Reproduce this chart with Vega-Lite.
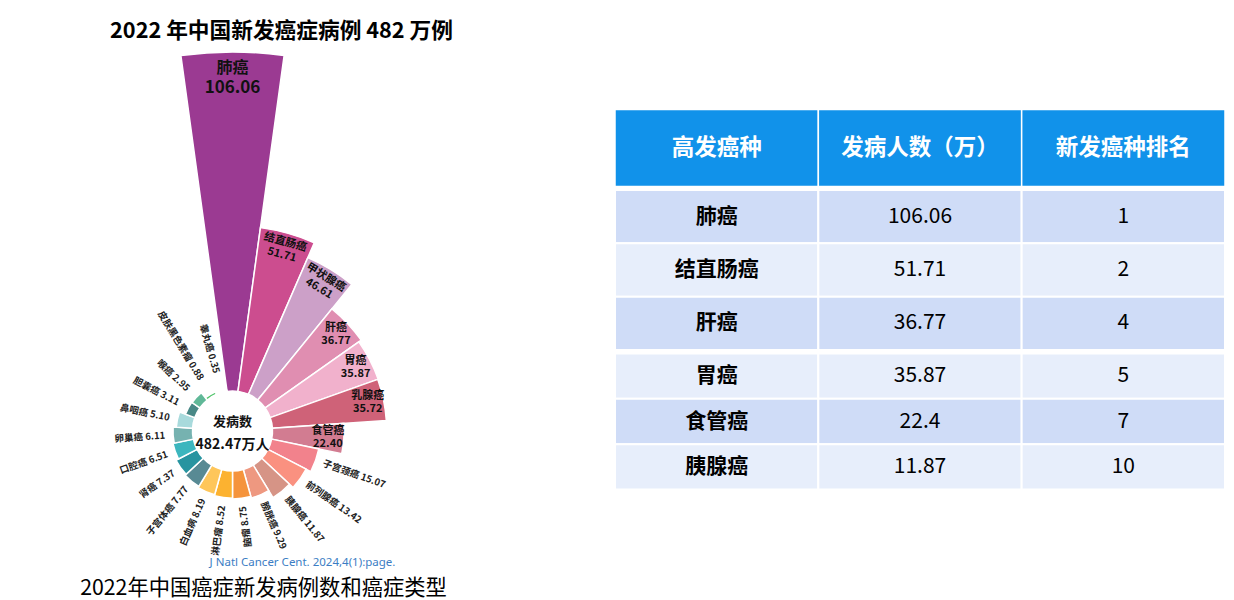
{
  "$schema": "https://vega.github.io/schema/vega-lite/v6.json",
  "background": "white",
  "padding": 0,
  "config": {"view": {"stroke": null}, "font": "Noto Sans CJK SC"},
  "datasets": {
    "cancers": [
      {"name": "肺癌", "value": 106.06},
      {"name": "结直肠癌", "value": 51.71},
      {"name": "甲状腺癌", "value": 46.61},
      {"name": "肝癌", "value": 36.77},
      {"name": "胃癌", "value": 35.87},
      {"name": "乳腺癌", "value": 35.72},
      {"name": "食管癌", "value": 22.40},
      {"name": "子宫颈癌", "value": 15.07},
      {"name": "前列腺癌", "value": 13.42},
      {"name": "胰腺癌", "value": 11.87},
      {"name": "膀胱癌", "value": 9.29},
      {"name": "脑瘤", "value": 8.75},
      {"name": "淋巴瘤", "value": 8.52},
      {"name": "白血病", "value": 8.19},
      {"name": "子宫体癌", "value": 7.77},
      {"name": "肾癌", "value": 7.37},
      {"name": "口腔癌", "value": 6.51},
      {"name": "卵巢癌", "value": 6.11},
      {"name": "鼻咽癌", "value": 5.10},
      {"name": "胆囊癌", "value": 3.11},
      {"name": "喉癌", "value": 2.95},
      {"name": "皮肤黑色素瘤", "value": 0.88},
      {"name": "睾丸癌", "value": 0.35}
    ],
    "table": [
      {"高发癌种": "肺癌", "发病人数（万）": 106.06, "新发癌种排名": 1},
      {"高发癌种": "结直肠癌", "发病人数（万）": 51.71, "新发癌种排名": 2},
      {"高发癌种": "肝癌", "发病人数（万）": 36.77, "新发癌种排名": 4},
      {"高发癌种": "胃癌", "发病人数（万）": 35.87, "新发癌种排名": 5},
      {"高发癌种": "食管癌", "发病人数（万）": 22.4, "新发癌种排名": 7},
      {"高发癌种": "胰腺癌", "发病人数（万）": 11.87, "新发癌种排名": 10}
    ]
  },
  "spacing": 150,
  "center": true,
  "resolve": {"scale": {"color": "independent", "x": "independent", "y": "independent"}},
  "hconcat": [
    {
      "width": 464,
      "height": 600,
      "resolve": {"scale": {"radius": "independent"}},
      "layer": [
        {
          "data": {"name": "cancers"},
          "mark": {"type": "arc", "innerRadius": 40, "stroke": "white", "strokeWidth": 1.5, "x": 232.5, "y": 431},
          "encoding": {
            "theta": {"field": "name", "type": "nominal", "sort": null, "scale": {"type": "band", "domain": ["肺癌","结直肠癌","甲状腺癌","肝癌","胃癌","乳腺癌","食管癌","子宫颈癌","前列腺癌","胰腺癌","膀胱癌","脑瘤","淋巴瘤","白血病","子宫体癌","肾癌","口腔癌","卵巢癌","鼻咽癌","胆囊癌","喉癌","皮肤黑色素瘤","睾丸癌"], "range": [-0.136591, 6.146594], "paddingInner": 0, "paddingOuter": 0}},
            "radius": {"field": "value", "type": "quantitative", "stack": null, "scale": {"type": "linear", "domain": [0, 106.06], "range": [40, 379], "nice": false}},
            "color": {"field": "name", "type": "nominal", "legend": null, "scale": {"domain": ["肺癌","结直肠癌","甲状腺癌","肝癌","胃癌","乳腺癌","食管癌","子宫颈癌","前列腺癌","胰腺癌","膀胱癌","脑瘤","淋巴瘤","白血病","子宫体癌","肾癌","口腔癌","卵巢癌","鼻咽癌","胆囊癌","喉癌","皮肤黑色素瘤","睾丸癌"], "range": ["#9b3a92","#cc4d8f","#cca0c8","#e08eb1","#f1b1cc","#cf6278","#d27c91","#f2828c","#fa9180","#d69486","#ee9880","#f5943c","#fcb230","#fec65a","#588a94","#2894a0","#3cb6be","#76b2b0","#a8dadc","#488886","#60b898","#50c46a","#a8e0c0"]}}
          }
        },
        {
          "data": {"name": "cancers"},
          "transform": [
            {"calculate": "datum.name + ' ' + format(datum.value, '.2f')", "as": "label"},
            {"calculate": "format(datum.value, '.2f')", "as": "num"}
          ],
          "encoding": {
            "theta": {"field": "name", "type": "nominal", "sort": null, "scale": {"type": "band", "domain": ["肺癌","结直肠癌","甲状腺癌","肝癌","胃癌","乳腺癌","食管癌","子宫颈癌","前列腺癌","胰腺癌","膀胱癌","脑瘤","淋巴瘤","白血病","子宫体癌","肾癌","口腔癌","卵巢癌","鼻咽癌","胆囊癌","喉癌","皮肤黑色素瘤","睾丸癌"], "range": [-0.136591, 6.146594], "paddingInner": 0, "paddingOuter": 0}},
            "radius": {"field": "value", "type": "quantitative", "stack": null, "scale": {"type": "linear", "domain": [0, 4, 106.06], "range": [60, 60.8, 387], "zero": false, "nice": false}},
            "angle": {"field": "value", "type": "quantitative", "legend": null, "scale": {"type": "linear", "zero": false, "nice": false, "domain": [106.06, 51.71, 46.61, 36.77, 35.87, 35.72, 22.40, 15.07, 13.42, 11.87, 9.29, 8.75, 8.52, 8.19, 7.77, 7.37, 6.51, 6.11, 5.10, 3.11, 2.95, 0.88, 0.35], "range": [0, 15.65, 31.3, 0, 0, 0, 0, 19.57, 35.22, 50.87, 66.52, -97.83, -82.17, -66.52, -50.87, -35.22, -19.57, -3.91, 11.74, 27.39, 43.04, 58.7, 74.35]}}
          },
          "layer": [
            {
              "transform": [{"filter": "datum.value < 16 && datum.value > 9"}],
              "mark": {"type": "text", "align": "left", "baseline": "middle", "fontSize": 9.5, "fontWeight": "bold", "color": "#222222", "x": 232.5, "y": 431},
              "encoding": {"text": {"field": "label", "type": "nominal"}}
            },
            {
              "transform": [{"filter": "datum.value < 9"}],
              "mark": {"type": "text", "align": "right", "baseline": "middle", "fontSize": 9.5, "fontWeight": "bold", "color": "#222222", "x": 232.5, "y": 431},
              "encoding": {"text": {"field": "label", "type": "nominal"}}
            },
            {
              "transform": [{"filter": "datum.value > 16 && datum.value < 100"}],
              "mark": {"type": "text", "align": "center", "baseline": "middle", "fontSize": 11, "fontWeight": "bold", "color": "#111111", "radiusOffset": -24, "dy": -6.5, "x": 232.5, "y": 431},
              "encoding": {"text": {"field": "name", "type": "nominal"}}
            },
            {
              "transform": [{"filter": "datum.value > 16 && datum.value < 100"}],
              "mark": {"type": "text", "align": "center", "baseline": "middle", "fontSize": 11, "fontWeight": "bold", "color": "#111111", "radiusOffset": -24, "dy": 6.5, "x": 232.5, "y": 431},
              "encoding": {"text": {"field": "num", "type": "nominal"}}
            },
            {
              "transform": [{"filter": "datum.value > 100"}],
              "mark": {"type": "text", "align": "center", "baseline": "middle", "fontSize": 16, "fontWeight": "bold", "color": "#111111", "radiusOffset": -33.5, "dy": -9.5, "x": 232.5, "y": 431},
              "encoding": {"text": {"field": "name", "type": "nominal"}}
            },
            {
              "transform": [{"filter": "datum.value > 100"}],
              "mark": {"type": "text", "align": "center", "baseline": "middle", "fontSize": 17, "fontWeight": "bold", "color": "#111111", "radiusOffset": -33.5, "dy": 10, "x": 232.5, "y": 431},
              "encoding": {"text": {"field": "num", "type": "nominal"}}
            }
          ]
        },
        {
          "data": {"values": [{"t": "发病数"}]},
          "mark": {"type": "text", "fontSize": 13, "fontWeight": "bold", "color": "#111111", "dy": -9.5, "x": 232.5, "y": 431},
          "encoding": {"text": {"field": "t", "type": "nominal"}}
        },
        {
          "data": {"values": [{"t": "482.47万人"}]},
          "mark": {"type": "text", "fontSize": 14, "fontWeight": "bold", "color": "#111111", "dy": 14, "x": 232.5, "y": 431},
          "encoding": {"text": {"field": "t", "type": "nominal"}}
        },
        {
          "data": {"values": [{"t": "2022 年中国新发癌症病例 482 万例"}]},
          "mark": {"type": "text", "fontSize": 21.7, "fontWeight": "bold", "color": "#000000", "x": 281.5, "y": 31},
          "encoding": {"text": {"field": "t", "type": "nominal"}}
        },
        {
          "data": {"values": [{"t": "J Natl Cancer Cent. 2024,4(1):page."}]},
          "mark": {"type": "text", "font": "Noto Sans", "fontSize": 11.5, "color": "#3b7dc4", "x": 302.5, "y": 563},
          "encoding": {"text": {"field": "t", "type": "nominal"}}
        },
        {
          "data": {"values": [{"t": "2022年中国癌症新发病例数和癌症类型"}]},
          "mark": {"type": "text", "fontSize": 21.3, "color": "#000000", "x": 263.5, "y": 589},
          "encoding": {"text": {"field": "t", "type": "nominal"}}
        }
      ]
    },
    {
      "spacing": 1.5,
      "resolve": {"scale": {"color": "independent", "x": "independent", "y": "independent"}},
      "vconcat": [
        {
          "width": 610,
          "height": 77,
          "data": {"values": [{"列": "高发癌种"}, {"列": "发病人数（万）"}, {"列": "新发癌种排名"}]},
          "encoding": {
            "x": {"field": "列", "type": "nominal", "sort": null, "axis": null, "scale": {"type": "band", "domain": ["高发癌种", "发病人数（万）", "新发癌种排名"], "paddingInner": 0, "paddingOuter": 0}}
          },
          "layer": [
            {"mark": {"type": "rect", "color": "#1192ea", "stroke": "white", "strokeWidth": 1.5}},
            {"mark": {"type": "text", "color": "white", "fontSize": 22.5, "fontWeight": "bold"}, "encoding": {"text": {"field": "列", "type": "nominal"}}}
          ]
        },
        {
          "width": 610,
          "height": 160,
          "data": {"name": "table"},
          "transform": [
            {"filter": {"field": "高发癌种", "oneOf": ["肺癌", "结直肠癌", "肝癌"]}},
            {"fold": ["高发癌种", "发病人数（万）", "新发癌种排名"], "as": ["列", "值"]}
          ],
          "encoding": {
            "x": {"field": "列", "type": "nominal", "sort": null, "axis": null, "scale": {"type": "band", "domain": ["高发癌种", "发病人数（万）", "新发癌种排名"], "paddingInner": 0, "paddingOuter": 0}},
            "y": {"field": "高发癌种", "type": "nominal", "sort": null, "axis": null, "scale": {"type": "band", "domain": ["肺癌", "结直肠癌", "肝癌"], "paddingInner": 0, "paddingOuter": 0}}
          },
          "layer": [
            {"mark": {"type": "rect", "stroke": "white", "strokeWidth": 2}, "encoding": {"color": {"field": "高发癌种", "type": "nominal", "legend": null, "scale": {"domain": ["肺癌", "结直肠癌", "肝癌"], "range": ["#cfdcf7", "#e7eefb", "#cfdcf7"]}}}},
            {"transform": [{"filter": "datum['列'] === '高发癌种'"}], "mark": {"type": "text", "fontSize": 21, "fontWeight": "bold", "color": "#000000"}, "encoding": {"text": {"field": "值", "type": "nominal"}}},
            {"transform": [{"filter": "datum['列'] !== '高发癌种'"}], "mark": {"type": "text", "fontSize": 21, "color": "#000000"}, "encoding": {"text": {"field": "值", "type": "nominal"}}}
          ]
        },
        {
          "width": 610,
          "height": 136,
          "data": {"name": "table"},
          "transform": [
            {"filter": {"field": "高发癌种", "oneOf": ["胃癌", "食管癌", "胰腺癌"]}},
            {"fold": ["高发癌种", "发病人数（万）", "新发癌种排名"], "as": ["列", "值"]}
          ],
          "encoding": {
            "x": {"field": "列", "type": "nominal", "sort": null, "axis": null, "scale": {"type": "band", "domain": ["高发癌种", "发病人数（万）", "新发癌种排名"], "paddingInner": 0, "paddingOuter": 0}},
            "y": {"field": "高发癌种", "type": "nominal", "sort": null, "axis": null, "scale": {"type": "band", "domain": ["胃癌", "食管癌", "胰腺癌"], "paddingInner": 0, "paddingOuter": 0}}
          },
          "layer": [
            {"mark": {"type": "rect", "stroke": "white", "strokeWidth": 2}, "encoding": {"color": {"field": "高发癌种", "type": "nominal", "legend": null, "scale": {"domain": ["胃癌", "食管癌", "胰腺癌"], "range": ["#e7eefb", "#cfdcf7", "#e7eefb"]}}}},
            {"transform": [{"filter": "datum['列'] === '高发癌种'"}], "mark": {"type": "text", "fontSize": 21, "fontWeight": "bold", "color": "#000000"}, "encoding": {"text": {"field": "值", "type": "nominal"}}},
            {"transform": [{"filter": "datum['列'] !== '高发癌种'"}], "mark": {"type": "text", "fontSize": 21, "color": "#000000"}, "encoding": {"text": {"field": "值", "type": "nominal"}}}
          ]
        }
      ]
    }
  ]
}
